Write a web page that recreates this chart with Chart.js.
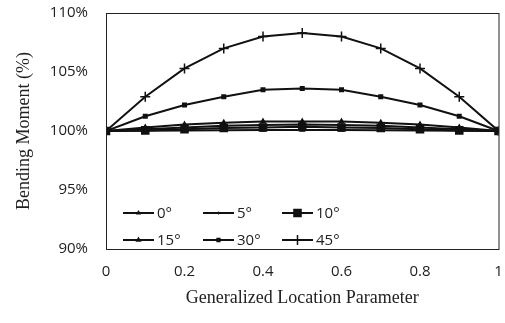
<!DOCTYPE html>
<html>
<head>
<meta charset="utf-8">
<script src="https://cdn.jsdelivr.net/npm/chart.js@4/dist/chart.umd.min.js"></script>
<style>
  html, body { margin: 0; padding: 0; background: #fff; }
  #wrap { width: 505px; height: 323px; }
</style>
</head>
<body>
<div id="wrap"><canvas id="bm-chart"></canvas></div>
<script>
// location along member (0..1)
const locations = [0, 0.1, 0.2, 0.3, 0.4, 0.5, 0.6, 0.7, 0.8, 0.9, 1];
const seriesLabels = ['0°', '5°', '10°', '15°', '30°', '45°'];

// bending moment (%)
const deg0 = [100, 100.02, 100.04, 100.06, 100.08, 100.08, 100.08, 100.06, 100.04, 100.02, 100];
const deg5 = [100, 100.15, 100.3, 100.45, 100.5, 100.55, 100.5, 100.45, 100.3, 100.15, 100];
const deg10 = [100, 100.05, 100.15, 100.25, 100.3, 100.35, 100.3, 100.25, 100.15, 100.05, 100];
const deg15 = [100, 100.3, 100.55, 100.7, 100.8, 100.8, 100.8, 100.7, 100.55, 100.3, 100];
const deg30 = [100, 101.25, 102.2, 102.9, 103.5, 103.6, 103.5, 102.9, 102.2, 101.25, 100];
const deg45 = [100, 102.9, 105.3, 107.0, 108.0, 108.3, 108.0, 107.0, 105.3, 102.9, 100];

const xTicks = [0, 0.2, 0.4, 0.6, 0.8, 1];
const yTicks = [90, 95, 100, 105, 110];

const allValues = [deg0, deg5, deg10, deg15, deg30, deg45];
const markers = [
    { style: 'triangle', radius: 2 },
    { style: 'crossRot', radius: 1.5 },
    { style: 'rect', radius: 5 },
    { style: 'triangle', radius: 2.5 },
    { style: 'rect', radius: 2.5 },
    { style: 'cross', radius: 5 }
];

const tickFont = { family: '"Open Sans", sans-serif', size: 15 };
const titleFont = { family: '"Liberation Serif", serif', size: 18 };

function toPoints(values) {
    return values.map((v, i) => ({ x: locations[i], y: v }));
}

const datasets = allValues.map((vals, i) => ({
    label: seriesLabels[i],
    data: toPoints(vals),
    borderColor: '#111',
    backgroundColor: '#111',
    borderWidth: 2,
    pointStyle: markers[i].style,
    pointRadius: markers[i].radius,
    pointBorderWidth: 1.5,
    tension: 0
}));

// legend sits inside the plot, two rows of three
const innerLegend = {
    id: 'innerLegend',
    afterDraw(chart) {
        const ctx = chart.ctx;
        const area = chart.chartArea;
        const colX = [area.left + 17, area.left + 97, area.left + 176];
        const rowY = [area.bottom - 36, area.bottom - 9];
        ctx.save();
        ctx.font = '15px "Open Sans", sans-serif';
        ctx.textBaseline = 'middle';
        chart.data.datasets.forEach((ds, i) => {
            const x = colX[i % 3];
            const y = rowY[Math.floor(i / 3)];
            ctx.strokeStyle = '#111';
            ctx.fillStyle = '#111';
            ctx.lineWidth = 2;
            ctx.beginPath();
            ctx.moveTo(x, y);
            ctx.lineTo(x + 31, y);
            ctx.stroke();
            ctx.lineWidth = 1.5;
            const r = ds.pointRadius < 3 ? ds.pointRadius * 0.8 : ds.pointRadius;
            Chart.helpers.drawPoint(ctx, {
                pointStyle: ds.pointStyle,
                radius: r,
                rotation: 0,
                borderWidth: 1.5
            }, x + 15.5, y);
            ctx.fillStyle = '#222';
            ctx.fillText(ds.label, x + 34, y + 1);
        });
        ctx.restore();
    }
};

const plotBox = {
    id: 'plotBox',
    afterDraw(chart) {
        const a = chart.chartArea;
        const ctx = chart.ctx;
        ctx.save();
        ctx.strokeStyle = '#222';
        ctx.lineWidth = 1;
        ctx.strokeRect(a.left + 0.5, a.top + 0.5, a.right - a.left, a.bottom - a.top);
        ctx.restore();
    }
};

document.addEventListener('DOMContentLoaded', function () {
    const canvas = document.getElementById('bm-chart');

    new Chart(canvas, {
        type: 'line',
        data: { datasets: datasets },
        options: {
            responsive: true,
            maintainAspectRatio: false,
            animation: false,
            layout: { padding: { left: 13, right: 6, top: 13, bottom: 14 } },
            plugins: {
                legend: { display: false },
                tooltip: { enabled: false }
            },
            scales: {
                x: {
                    type: 'linear',
                    min: 0,
                    max: 1,
                    afterBuildTicks: s => { s.ticks = xTicks.map(v => ({ value: v })); },
                    afterFit: s => {
                        s.height = 60;
                        s.paddingLeft = 0;
                        s.paddingRight = 0;
                    },
                    grid: { display: false, drawTicks: false },
                    border: { display: false },
                    ticks: {
                        padding: 14,
                        color: '#222',
                        font: tickFont,
                        maxRotation: 0,
                        callback: v => String(v)
                    },
                    title: {
                        display: true,
                        text: 'Generalized Location Parameter',
                        color: '#222',
                        font: titleFont,
                        padding: { top: 0, bottom: 0 }
                    }
                },
                y: {
                    min: 90,
                    max: 110,
                    afterBuildTicks: s => { s.ticks = yTicks.map(v => ({ value: v })); },
                    afterFit: s => {
                        s.width = 93;
                        s.paddingTop = 0;
                        s.paddingBottom = 0;
                    },
                    grid: { display: false, drawTicks: false },
                    border: { display: false },
                    ticks: {
                        padding: 18,
                        color: '#222',
                        font: tickFont,
                        callback: v => v + '%'
                    },
                    title: {
                        display: true,
                        text: 'Bending Moment (%)',
                        color: '#222',
                        font: titleFont,
                        padding: { top: 0, bottom: 0 }
                    }
                }
            }
        },
        plugins: [plotBox, innerLegend]
    });
});
</script>
</body>
</html>
